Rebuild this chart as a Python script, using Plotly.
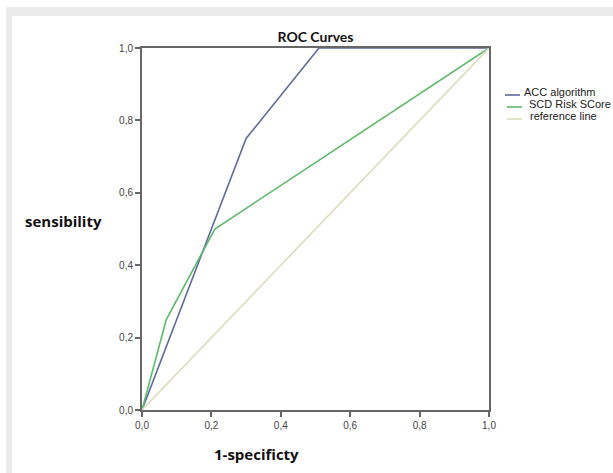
import plotly.graph_objects as go

# Data
acc_x = [0.0, 0.30, 0.51, 1.0]
acc_y = [0.0, 0.75, 1.0, 1.0]
scd_x = [0.0, 0.07, 0.21, 1.0]
scd_y = [0.0, 0.25, 0.50, 1.0]
ref_x = [0.0, 1.0]
ref_y = [0.0, 1.0]
tick_vals = [0.0, 0.2, 0.4, 0.6, 0.8, 1.0]
tick_text = ["0,0", "0,2", "0,4", "0,6", "0,8", "1,0"]
series_names = ["ACC algorithm", "SCD Risk SCore", "reference line"]
series_colors = ["#5f6b9e", "#5cb86a", "#dcdcbc"]

W, H = 613, 473
L, R, T, B = 142, 124, 48, 63
PW, PH = W - L - R, H - T - B

def px(x):
    return (x - L) / PW

def py(y):
    return (H - B - y) / PH

fig = go.Figure()
for xs, ys, nm, col in zip([acc_x, scd_x, ref_x], [acc_y, scd_y, ref_y], series_names, series_colors):
    fig.add_trace(go.Scatter(x=xs, y=ys, mode="lines", name=nm,
                             line=dict(color=col, width=1.6)))

axis_common = dict(range=[0, 1], tickvals=tick_vals, ticktext=tick_text,
                   showgrid=False, zeroline=False, showline=True, mirror=True,
                   linecolor="#666666", linewidth=2, ticks="outside", ticklen=5,
                   tickcolor="#666666", tickwidth=1.5,
                   tickfont=dict(family="Liberation Sans, Arial", size=10, color="#444444"))

shapes = [
    dict(type="rect", xref="paper", yref="paper", layer="below",
         x0=px(6), x1=px(W + 5), y0=py(H + 5), y1=py(7),
         fillcolor="#ebebeb", line=dict(width=0)),
    dict(type="rect", xref="paper", yref="paper", layer="below",
         x0=px(12), x1=px(W + 5), y0=py(H + 5), y1=py(16),
         fillcolor="white", line=dict(width=0)),
]
annotations = [
    dict(text="<b>sensibility</b>", xref="paper", yref="paper", x=px(63), y=py(221),
         xanchor="center", yanchor="middle", showarrow=False,
         font=dict(family="Open Sans", size=15, color="#111111")),
    dict(text="<b>1-specificty</b>", xref="paper", yref="paper", x=px(256), y=py(454),
         xanchor="center", yanchor="middle", showarrow=False,
         font=dict(family="Open Sans", size=15, color="#111111")),
]

# legend (drawn manually to match compact spacing)
leg_rows = [(94, 505, 520, 522), (106, 507, 522, 527), (118, 507, 522, 528)]
for (yy, lx0, lx1, tx), nm, col in zip(leg_rows, series_names, series_colors):
    shapes.append(dict(type="line", xref="paper", yref="paper",
                       x0=px(lx0), x1=px(lx1), y0=py(yy + 1), y1=py(yy + 1),
                       line=dict(color=col, width=1.6)))
    annotations.append(dict(text=nm, xref="paper", yref="paper", x=px(tx), y=py(yy - 2),
                            xanchor="left", yanchor="middle", showarrow=False,
                            font=dict(family="Liberation Sans, Arial", size=11, color="#222222")))

fig.update_layout(
    width=W, height=H,
    margin=dict(l=L, r=R, t=T, b=B, autoexpand=False),
    paper_bgcolor="white",
    plot_bgcolor="#f0f0f0",
    xaxis=dict(**axis_common),
    yaxis=dict(**axis_common),
    title=dict(text="<b>ROC Curves</b>", x=px(315.5), xref="paper", xanchor="center",
               y=1 - 37 / H, yanchor="middle",
               font=dict(family="Lato, Noto Sans", size=14, color="#111111")),
    showlegend=False,
    shapes=shapes,
    annotations=annotations,
)

fig.write_html("out.html", config={"displayModeBar": False},
               post_script="document.body.style.margin='0px';")
